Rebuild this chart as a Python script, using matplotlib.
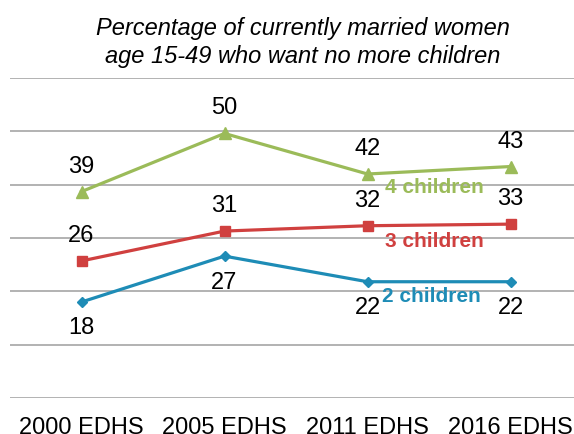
import matplotlib
from matplotlib import pyplot as plt

matplotlib.use("agg")
plt.rcParams["font.family"] = ["Liberation Sans", "DejaVu Sans"]

surveys = ["2000 EDHS", "2005 EDHS", "2011 EDHS", "2016 EDHS"]
two_children = [18.0, 26.6, 21.8, 21.8]
three_children = [25.7, 31.3, 32.3, 32.6]
four_children = [38.7, 49.6, 42.0, 43.4]
two_labels = ["18", "27", "22", "22"]
three_labels = ["26", "31", "32", "33"]
four_labels = ["39", "50", "42", "43"]

green = "#9BBB59"
red = "#D0403F"
blue = "#1E8CB6"

fig = plt.figure(figsize=(5.74, 4.34), dpi=100)
ax = fig.add_axes([10 / 574, 1 - 398 / 434, 572 / 574, 320 / 434])

x = range(len(surveys))
ax.plot(x, four_children, color=green, lw=2.3, marker="^", ms=8, zorder=3)
ax.plot(x, three_children, color=red, lw=2.3, marker="s", ms=7, zorder=3)
ax.plot(x, two_children, color=blue, lw=2.3, marker="D", ms=5.5, zorder=3)

for i in x:
    ax.annotate(four_labels[i], (i, four_children[i]), xytext=(0, 18),
                textcoords="offset points", ha="center", va="center", fontsize=17)
    ax.annotate(three_labels[i], (i, three_children[i]), xytext=(0, 18),
                textcoords="offset points", ha="center", va="center", fontsize=17)
    ax.annotate(two_labels[i], (i, two_children[i]), xytext=(0, -19),
                textcoords="offset points", ha="center", va="center", fontsize=17)

ax.text(2.47, 39.4, "4 children", color=green, fontsize=15, fontweight="bold",
        ha="center", va="center")
ax.text(2.47, 29.3, "3 children", color=red, fontsize=15, fontweight="bold",
        ha="center", va="center")
ax.text(2.45, 19.1, "2 children", color=blue, fontsize=15, fontweight="bold",
        ha="center", va="center")

ax.set_xlim(-0.5, 3.5)
ax.set_ylim(0, 60)
ax.set_yticks(range(0, 61, 10))
ax.set_yticklabels([])
ax.set_xticks(list(x))
ax.set_xticklabels(surveys, fontsize=17)
ax.tick_params(axis="both", length=0)
ax.tick_params(axis="x", pad=14)
ax.grid(axis="y", color="#A6A6A6", lw=1.2)
ax.set_axisbelow(True)
for s in ax.spines.values():
    s.set_visible(False)

fig.text(303 / 574, 1 - 29 / 434, "Percentage of currently married women",
         ha="center", va="center", fontsize=17, style="italic")
fig.text(303 / 574, 1 - 56 / 434, "age 15-49 who want no more children",
         ha="center", va="center", fontsize=17, style="italic")

plt.savefig("out.png", dpi=100)
